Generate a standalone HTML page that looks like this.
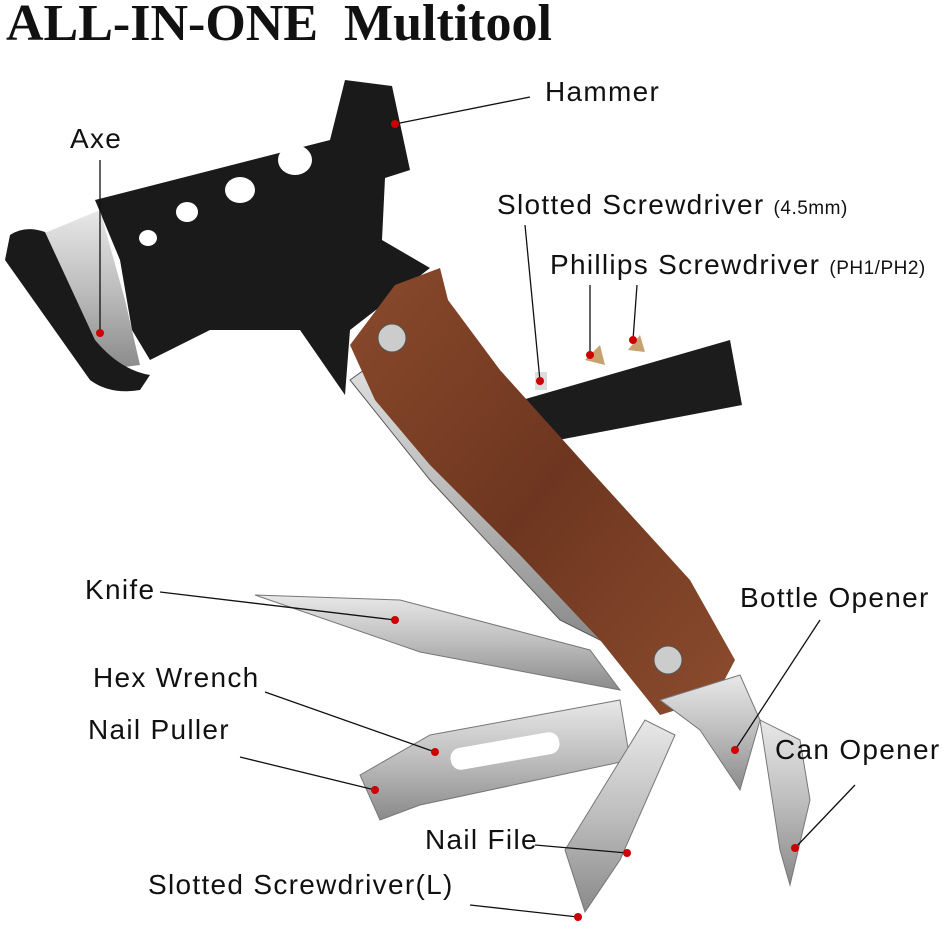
<!DOCTYPE html>
<html><head><meta charset="utf-8"><style>
html,body{margin:0;padding:0;background:#fff;}
svg{display:block;}
text{font-family:"Liberation Sans",sans-serif;fill:#111;}
</style></head><body>
<svg width="950" height="941" viewBox="0 0 950 941" xmlns="http://www.w3.org/2000/svg">
<defs>
<linearGradient id="wood" x1="0" y1="0" x2="1" y2="1">
<stop offset="0" stop-color="#8a4a2c"/><stop offset="0.5" stop-color="#6e3620"/><stop offset="1" stop-color="#8c4c2e"/></linearGradient>
<linearGradient id="steel" x1="0" y1="0" x2="0" y2="1">
<stop offset="0" stop-color="#e8e8e8"/><stop offset="0.5" stop-color="#bdbdbd"/><stop offset="1" stop-color="#8a8a8a"/></linearGradient>
</defs>
<text x="6" y="40" style="font-family:'Liberation Serif',serif;font-weight:bold;font-size:52px">ALL-IN-ONE&#160; Multitool</text>

<polygon points="350,380 420,330 560,520 600,640 560,620 430,480" fill="url(#steel)" stroke="#555"/>
<polygon points="522,400 730,340 742,405 532,445" fill="#1c1c1c"/>
<rect x="535" y="372" width="12" height="18" fill="#ddd"/>
<polygon points="585,360 600,345 605,365" fill="#c9a070"/>
<polygon points="628,350 640,335 645,352" fill="#c9a070"/>
<polygon points="95,200 330,140 345,80 392,86 410,170 385,178 382,240 430,268 350,330 345,395 300,330 210,330 150,360 132,330 120,260" fill="#1a1a1a"/>
<ellipse cx="148" cy="238" rx="9" ry="8" fill="#fff"/>
<ellipse cx="187" cy="212" rx="11" ry="10" fill="#fff"/>
<ellipse cx="240" cy="190" rx="15" ry="13" fill="#fff"/>
<ellipse cx="295" cy="160" rx="17" ry="15" fill="#fff"/>
<polygon points="40,235 100,210 125,300 140,365 100,370 60,320" fill="url(#steel)"/>
<path d="M10,235 Q25,225 45,232 L95,340 Q120,370 150,375 L140,390 Q110,395 90,380 L5,260 Z" fill="#1a1a1a"/>
<polygon points="350,345 395,285 440,268 448,300 500,370 590,470 690,580 735,660 715,698 660,715 600,640 520,555 430,465 375,400" fill="url(#wood)"/>
<circle cx="392" cy="338" r="14" fill="#ccc" stroke="#555"/>
<circle cx="668" cy="660" r="14" fill="#ccc" stroke="#555"/>
<polygon points="255,595 400,600 590,650 620,690 420,652" fill="url(#steel)" stroke="#777"/>
<polygon points="360,775 430,735 620,700 630,760 420,805 380,820" fill="url(#steel)" stroke="#777"/>
<rect x="450" y="740" width="110" height="22" rx="10" fill="#fff" transform="rotate(-10 505 751)"/>
<polygon points="565,850 645,720 675,735 620,860 585,912" fill="url(#steel)" stroke="#777"/>
<polygon points="660,700 740,675 760,720 740,790 720,760 700,730" fill="url(#steel)" stroke="#777"/>
<polygon points="760,720 800,740 810,800 790,885 780,850" fill="url(#steel)" stroke="#777"/>

<g font-size="28" letter-spacing="1.3">
<text x="545" y="101">Hammer</text>
<text x="70" y="148">Axe</text>
<text x="497" y="214">Slotted Screwdriver <tspan font-size="19" letter-spacing="0.5">(4.5mm)</tspan></text>
<text x="550" y="274">Phillips Screwdriver <tspan font-size="19" letter-spacing="0.5">(PH1/PH2)</tspan></text>
<text x="85" y="599">Knife</text>
<text x="740" y="607">Bottle Opener</text>
<text x="93" y="687">Hex Wrench</text>
<text x="88" y="739">Nail Puller</text>
<text x="775" y="759">Can Opener</text>
<text x="425" y="849">Nail File</text>
<text x="148" y="894">Slotted Screwdriver(L)</text>
</g>
<g stroke="#111" stroke-width="1.3" fill="none">
<line x1="395" y1="124" x2="530" y2="97"/>
<line x1="100" y1="160" x2="100" y2="333"/>
<line x1="525" y1="225" x2="540" y2="381"/>
<line x1="590" y1="285" x2="590" y2="355"/>
<line x1="637" y1="285" x2="633" y2="340"/>
<line x1="160" y1="592" x2="395" y2="620"/>
<line x1="265" y1="692" x2="435" y2="752"/>
<line x1="240" y1="757" x2="375" y2="790"/>
<line x1="535" y1="845" x2="627" y2="853"/>
<line x1="470" y1="905" x2="578" y2="917"/>
<line x1="820" y1="620" x2="735" y2="750"/>
<line x1="855" y1="785" x2="795" y2="848"/>
</g>
<g fill="#c00">
<circle cx="395" cy="124" r="4"/><circle cx="100" cy="333" r="4"/>
<circle cx="540" cy="381" r="4"/><circle cx="590" cy="355" r="4"/>
<circle cx="633" cy="340" r="4"/><circle cx="395" cy="620" r="4"/>
<circle cx="435" cy="752" r="4"/><circle cx="375" cy="790" r="4"/>
<circle cx="627" cy="853" r="4"/><circle cx="578" cy="917" r="4"/>
<circle cx="735" cy="750" r="4"/><circle cx="795" cy="848" r="4"/>
</g>
</svg>
</body></html>
